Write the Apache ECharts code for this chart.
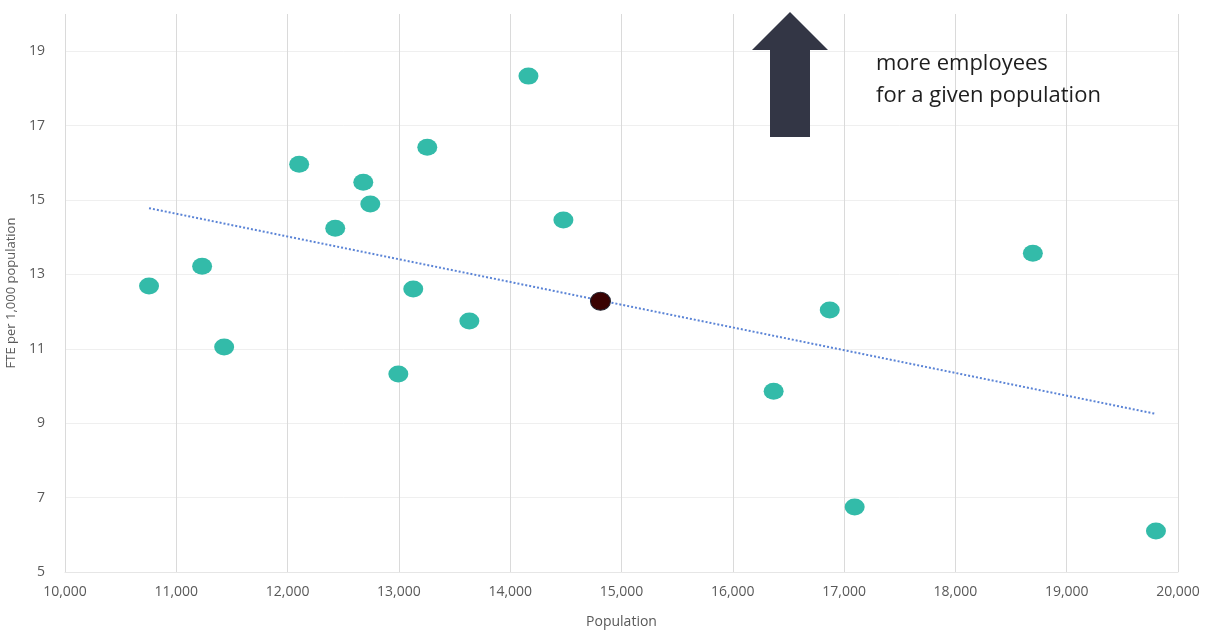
<!DOCTYPE html>
<html>
<head>
<meta charset="utf-8">
<script src="https://cdn.jsdelivr.net/npm/echarts@6/dist/echarts.min.js"></script>
<style>
  html, body { margin: 0; padding: 0; background: #ffffff; }
  #chart { width: 1210px; height: 631px; }
</style>
</head>
<body>
<div id="chart"></div>
<script>
// Population of each authority and its staffing level (FTE per 1,000 population)
const population = [10755, 11232, 11430, 12104, 12428, 12680, 12743, 12995, 13129, 13255,
                    13633, 14164, 14478, 16367, 16871, 17095, 18696, 19802];
const ftePer1000 = [12.69, 13.22, 11.05, 15.96, 14.24, 15.48, 14.89, 10.32, 12.61, 16.42,
                    11.75, 18.33, 14.46, 9.86, 12.04, 6.75, 13.57, 6.10];

// Highlighted authority
const focusPopulation = [14811];
const focusFte = [12.28];

// Linear trend line end points
const trendPopulation = [10755, 19802];
const trendFte = [14.78, 9.25];

// Axis ranges
const xMin = 10000, xMax = 20000, xStep = 1000;
const yMin = 5, yMax = 20, yStep = 2;

const fontFamily = 'Open Sans, Noto Sans, sans-serif';
const chart = echarts.init(document.getElementById('chart'), null, { renderer: 'canvas' });

const option = {
  backgroundColor: '#ffffff',
  animation: false,
  grid: {
    left: 65, right: 32, top: 14, bottom: 59,
    containLabel: false,
    outerBoundsMode: 'none'
  },
  xAxis: {
    type: 'value',
    min: xMin, max: xMax, interval: xStep,
    name: 'Population',
    nameLocation: 'middle',
    nameGap: 43,
    nameTextStyle: { color: '#595959', fontSize: 14, fontFamily },
    axisLine: { show: true, lineStyle: { color: '#e6e6e6', width: 1 } },
    axisTick: { show: false },
    axisLabel: {
      color: '#595959', fontSize: 14, fontFamily, margin: 13,
      formatter: v => v.toLocaleString('en-US')
    },
    splitLine: { show: true, lineStyle: { color: '#dadada', width: 1 } }
  },
  yAxis: {
    type: 'value',
    min: yMin, max: yMax, interval: yStep,
    name: 'FTE per 1,000 population',
    nameLocation: 'middle',
    nameGap: 42,
    nameTextStyle: { color: '#595959', fontSize: 13, fontFamily },
    axisLine: { show: false },
    axisTick: { show: false },
    axisLabel: { color: '#595959', fontSize: 14, fontFamily, margin: 20, showMaxLabel: false },
    splitLine: { show: true, showMaxLine: false, lineStyle: { color: '#efefef', width: 1 } }
  },
  series: [
    {
      type: 'line',
      data: trendPopulation.map((x, i) => [x, trendFte[i]]),
      symbol: 'none',
      lineStyle: { color: '#5b84d6', width: 2, type: [2, 2] },
      z: 3
    },
    {
      type: 'scatter',
      data: population.map((x, i) => [x, ftePer1000[i]]),
      symbol: 'circle',
      symbolSize: [20, 17],
      itemStyle: { color: '#33bba9', opacity: 1 },
      z: 4
    },
    {
      type: 'scatter',
      data: focusPopulation.map((x, i) => [x, focusFte[i]]),
      symbol: 'circle',
      symbolSize: [20, 18],
      itemStyle: { color: '#3a0202', borderColor: '#22222e', borderWidth: 1, opacity: 1 },
      z: 5
    }
  ],
  graphic: [
    {
      type: 'polygon',
      shape: {
        points: [[790, 12], [828, 50], [810, 50], [810, 137], [770, 137], [770, 50], [752, 50]]
      },
      style: { fill: '#333645' },
      z: 10
    },
    {
      type: 'text',
      left: 876,
      top: 48,
      style: {
        text: 'more employees\nfor a given population',
        fill: '#1e1e1e',
        font: '22px ' + fontFamily,
        lineHeight: 32
      },
      z: 10
    }
  ]
};

chart.setOption(option);
</script>
</body>
</html>
